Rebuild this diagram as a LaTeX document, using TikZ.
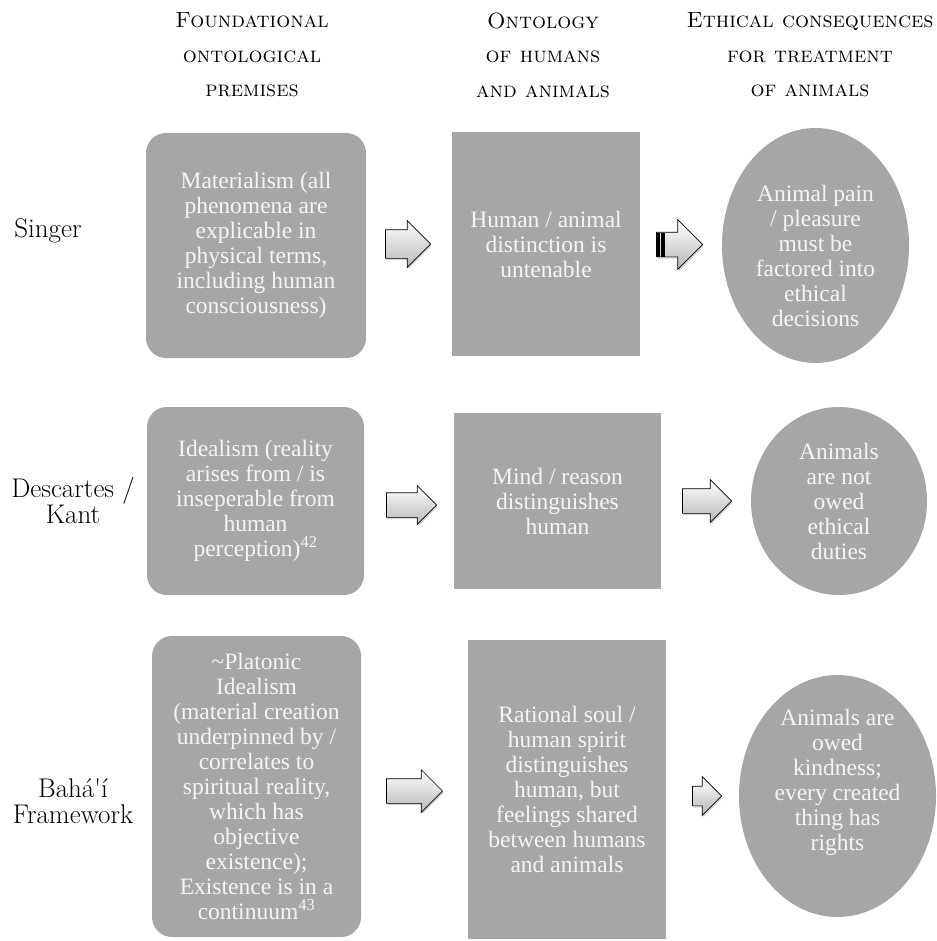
\documentclass[tikz,border=0pt]{standalone}
\usepackage{fontspec}
\newfontfamily\boxfont{Liberation Serif}
\usetikzlibrary{shapes.geometric,shapes.arrows,shadows}
\definecolor{boxgray}{HTML}{A6A6A6}
\definecolor{boxtext}{HTML}{F4F4F4}
\tikzset{
  btext/.style={text=boxtext, font=\boxfont\fontsize{23.5}{25}\selectfont, align=center, inner sep=0pt},
  base/.style={btext, fill=boxgray, draw=none},
  rbox/.style={base, rectangle, rounded corners=20pt},
  sbox/.style={base, rectangle},
  ebox/.style={base, ellipse},
  head/.style={font=\fontsize{22}{34.5}\selectfont\scshape, align=center, inner sep=0pt},
  rowlabel/.style={font=\fontsize{27}{26}\selectfont, align=center, inner sep=0pt},
  blockarrow/.style={single arrow, draw=black, line width=0.7pt, top color=white, bottom color=black!28,
    drop shadow={opacity=0.35, shadow xshift=1.2pt, shadow yshift=-1.8pt},
    inner sep=0pt, text depth=0pt, anchor=tip}
}
\begin{document}
\begin{tikzpicture}[x=1pt,y=-1pt]
\useasboundingbox (0,0) rectangle (936,941);
% headers
\node[head] (h1) at (252,55) {Foundational\\ontological\\premises};
\node[head] (h2) at (543,55) {Ontology\\of humans\\and animals};
\node[head] (h3) at (810,55) {Ethical consequences\\for treatment\\of animals};
% row labels
\node[rowlabel] (l1) at (48,231) {Singer};
\node[rowlabel] (l2) at (73,500) {Descartes /\\Kant};
\node[rowlabel] (l3) at (73,801) {Bah\'a\textquotesingle\'\i\\Framework};
% row 1
\node[rbox, minimum width=220, minimum height=225] (a1) at (256,245.5)
  {Materialism (all\\phenomena are\\explicable in\\physical terms,\\including human\\consciousness)};
\node[sbox, minimum width=188, minimum height=224] (b1) at (546,244)
  {Human / animal\\distinction is\\untenable};
\node[ebox, minimum width=187, minimum height=235] (c1) at (815.5,245.5) {};
\node[btext] (c1t) at ([yshift=-10pt]c1.center)
  {Animal pain\\/ pleasure\\must be\\factored into\\ethical\\decisions};
\node[blockarrow, minimum height=45, text height=28pt, minimum width=46, single arrow head extend=9] (r11) at (431,244) {};
\node[blockarrow, minimum height=46, text height=24pt, minimum width=49, single arrow head extend=12.5] (r12) at (703,244.5) {};
\fill ([yshift=12pt]r12.tail) rectangle ([xshift=3.5pt,yshift=-12pt]r12.tail);
\fill ([xshift=5pt,yshift=12pt]r12.tail) rectangle ([xshift=9pt,yshift=-12pt]r12.tail);
% row 2
\node[rbox, minimum width=217, minimum height=188] (a2) at (255.5,501)
  {Idealism (reality\\arises from / is\\inseperable from\\human\\perception)\smash{\textsuperscript{42}}};
\node[sbox, minimum width=207, minimum height=176] (b2) at (557.5,501)
  {Mind / reason\\distinguishes\\human};
\node[ebox, minimum width=176, minimum height=188] (c2) at (839,501)
  {Animals\\are not\\owed\\ethical\\duties};
\node[blockarrow, minimum height=50, text height=24pt, minimum width=38, single arrow head extend=7] (r21) at (437,505) {};
\node[blockarrow, minimum height=49, text height=24pt, minimum width=42, single arrow head extend=9] (r22) at (732,501) {};
% row 3
\node[rbox, minimum width=209, minimum height=301] (a3) at (256.5,786.5)
  {\textasciitilde Platonic\\Idealism\\(material creation\\underpinned by /\\correlates to\\spiritual reality,\\which has\\objective\\existence);\\Existence is in a\\continuum\smash{\textsuperscript{43}}};
\node[sbox, minimum width=198, minimum height=299] (b3) at (567,789.5)
  {Rational soul /\\human spirit\\distinguishes\\human, but\\feelings shared\\between humans\\and animals};
\node[ebox, minimum width=197, minimum height=242] (c3) at (837.5,796) {};
\node[btext] (c3t) at ([yshift=14pt]c3.center)
  {Animals are\\owed\\kindness;\\every created\\thing has\\rights};
\node[blockarrow, minimum height=56, text height=24pt, minimum width=42, single arrow head extend=9] (r31) at (443,791) {};
\node[blockarrow, minimum height=29, text height=19pt, minimum width=38, single arrow head extend=9.5] (r32) at (722,796) {};
\end{tikzpicture}
\end{document}
